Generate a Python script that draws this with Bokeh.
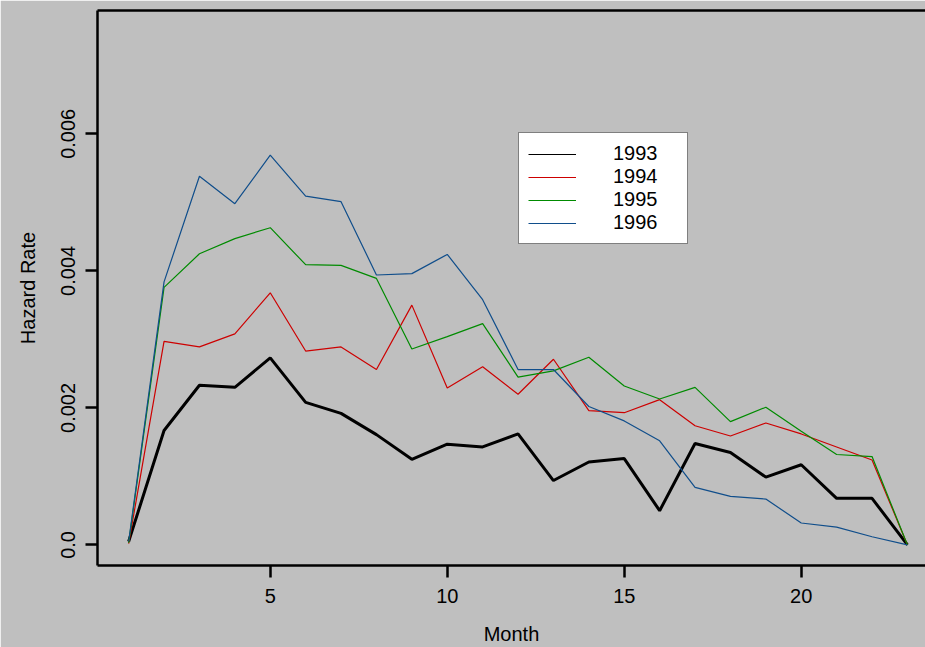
from bokeh.plotting import figure
from bokeh.models import Range1d, FixedTicker, LinearAxis, Legend, LegendItem
from bokeh.embed import file_html
from bokeh.resources import INLINE

months = list(range(1, 24))
h1993 = [0.00005, 0.00167, 0.00233, 0.00230, 0.00273, 0.00208, 0.00192, 0.00161,
         0.00125, 0.00147, 0.00143, 0.00162, 0.00094, 0.00121, 0.00126, 0.00050,
         0.00148, 0.00135, 0.00099, 0.00117, 0.00068, 0.00068, 0.0]
h1994 = [0.00002, 0.00297, 0.00289, 0.00308, 0.00368, 0.00283, 0.00289, 0.00256,
         0.00350, 0.00229, 0.00260, 0.00220, 0.00271, 0.00196, 0.00193, 0.00212,
         0.00174, 0.00159, 0.00178, 0.00162, 0.00143, 0.00124, 0.0]
h1995 = [0.00003, 0.00376, 0.00425, 0.00447, 0.00463, 0.00409, 0.00408, 0.00389,
         0.00286, 0.00304, 0.00323, 0.00245, 0.00254, 0.00274, 0.00232, 0.00213,
         0.00230, 0.00180, 0.00201, 0.00166, 0.00132, 0.00129, 0.0]
h1996 = [0.00005, 0.00384, 0.00538, 0.00498, 0.00569, 0.00509, 0.00501, 0.00394,
         0.00396, 0.00424, 0.00358, 0.00256, 0.00256, 0.00202, 0.00181, 0.00152,
         0.00084, 0.00071, 0.00067, 0.00032, 0.00026, 0.00012, 0.0]

series_names = ["1993", "1994", "1995", "1996"]
series_colors = ["#000000", "#CD0000", "#008B00", "#104E8B"]
series_widths = [3, 1.2, 1.2, 1.2]
x_ticks = [5, 10, 15, 20]
y_ticks = [0.0, 0.002, 0.004, 0.006]
y_tick_labels = ["0.0", "0.002", "0.004", "0.006"]

FONT = "Liberation Sans"
BG = "#BFBFBF"

p = figure(width=925, height=647, output_backend="svg", toolbar_location=None,
           x_range=Range1d(0.12, 23.51), y_range=Range1d(-0.0003, 0.0078),
           x_axis_label="Month", y_axis_label="Hazard Rate",
           min_border_left=97, min_border_right=0, min_border_top=10,
           min_border_bottom=82)
p.background_fill_color = BG
p.border_fill_color = BG
p.outline_line_color = None
p.grid.visible = False

for ax in (p.xaxis[0], p.yaxis[0]):
    ax.axis_line_width = 2.5
    ax.axis_line_color = "black"
    ax.major_tick_line_width = 2.5
    ax.major_tick_in = 0
    ax.major_tick_out = 12
    ax.minor_tick_line_color = None
    ax.major_label_text_font = FONT
    ax.major_label_text_font_size = "20px"
    ax.major_label_text_color = "black"
    ax.axis_label_text_font = FONT
    ax.axis_label_text_font_size = "20px"
    ax.axis_label_text_font_style = "normal"
    ax.axis_label_text_color = "black"

p.xaxis[0].ticker = FixedTicker(ticks=x_ticks)
p.xaxis[0].major_label_standoff = 11
p.xaxis[0].axis_label_standoff = 17

p.yaxis[0].ticker = FixedTicker(ticks=y_ticks)
p.yaxis[0].major_label_overrides = {t: l for t, l in zip(y_ticks, y_tick_labels)}
p.yaxis[0].major_label_orientation = "vertical"
p.yaxis[0].major_label_standoff = 10
p.yaxis[0].axis_label_standoff = 20

top = LinearAxis(ticker=FixedTicker(ticks=[]), axis_line_width=2.5,
                 major_tick_line_color=None, minor_tick_line_color=None,
                 major_label_text_font_size="0px")
p.add_layout(top, "above")

# thin proxy for the 1993 legend entry, hidden under the thick 1993 line
thin1993 = p.line(x=months, y=h1993, line_color=series_colors[0], line_width=1)

renderers = []
for vals, col, w in zip([h1993, h1994, h1995, h1996], series_colors, series_widths):
    renderers.append(p.line(x=months, y=vals, line_color=col, line_width=w))

legend_renderers = [thin1993] + renderers[1:]
items = [LegendItem(label=n, renderers=[r]) for n, r in zip(series_names, legend_renderers)]

legend = Legend(items=items, location=(421, 321), padding=9, spacing=0,
                glyph_width=48, glyph_height=20, label_height=20,
                label_width=65, label_standoff=37,
                label_text_font=FONT, label_text_font_size="20px",
                label_text_color="black",
                border_line_color="black", border_line_width=1,
                background_fill_color="white", background_fill_alpha=1.0,
                margin=0)
p.add_layout(legend, "center")

open("out.html", "w").write(file_html(p, INLINE))
